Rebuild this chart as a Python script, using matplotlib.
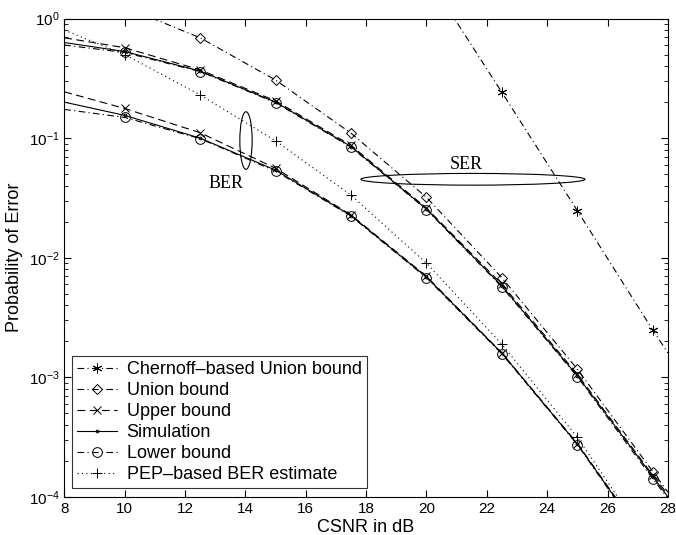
import matplotlib
matplotlib.use("Agg")
import matplotlib.pyplot as plt
from matplotlib.patches import Ellipse
from matplotlib.ticker import LogLocator, FixedLocator

plt.rcParams['font.family'] = ['Liberation Sans', 'DejaVu Sans']

# SER curves (CSNR in dB)
ser_x = [8, 10, 12.5, 15, 17.5, 20, 22.5, 25, 27.5, 28]
ser_sim = [0.63, 0.53, 0.364, 0.20, 0.085, 0.0255, 0.0058, 0.00103, 1.48e-4, 1.0e-4]
ser_upper = [0.69, 0.57, 0.372, 0.205, 0.087, 0.026, 0.0060, 0.00106, 1.52e-4, 1.05e-4]
ser_lower = [0.60, 0.52, 0.36, 0.198, 0.084, 0.0253, 0.0057, 0.00101, 1.42e-4, 0.97e-4]

union_x = [10, 12.5, 15, 17.5, 20, 22.5, 25, 27.5, 28]
union_ser = [1.25, 0.69, 0.306, 0.11, 0.032, 0.0068, 0.00117, 1.63e-4, 1.1e-4]

chern_x = [20, 22.5, 25, 27.5, 28]
chern_ser = [2.3, 0.241, 0.0247, 0.00248, 0.0016]

# BER curves
ber_x = [8, 10, 12.5, 15, 17.5, 20, 22.5, 25, 27.5]
ber_sim = [0.20, 0.155, 0.10, 0.054, 0.0225, 0.0069, 0.00159, 2.77e-4, 3.5e-5]
ber_upper = [0.244, 0.177, 0.111, 0.056, 0.0228, 0.0070, 0.0016, 2.8e-4, 3.6e-5]
ber_lower = [0.174, 0.149, 0.099, 0.053, 0.0223, 0.0068, 0.00157, 2.74e-4, 3.4e-5]
ber_pep = [0.8, 0.50, 0.23, 0.095, 0.0334, 0.009, 0.00189, 3.15e-4, 3.7e-5]

fig = plt.figure(figsize=(6.76, 5.35), dpi=100)
ax = fig.add_axes([0.0951, 0.071, 0.893, 0.8944])

lw = 0.8
kw = dict(color='k', lw=lw, mfc='none', mec='k', mew=0.7)
dashdot = (0, (6, 3, 1, 3))
dashed = (0, (7, 4))

ax.plot(chern_x, chern_ser, linestyle=dashdot, marker=(6, 2, 0), ms=7, markevery=slice(1, 4),
        label='Chernoff\u2013based Union bound', **kw)
ax.plot(union_x, union_ser, linestyle=dashdot, marker='D', ms=5.5,
        markevery=slice(0, 8), label='Union bound', **kw)
ax.plot(ser_x, ser_upper, linestyle=dashed, marker='x', ms=6,
        markevery=slice(1, 9), label='Upper bound', **kw)
ax.plot(ser_x, ser_sim, linestyle='-', marker='.', ms=4,
        markevery=slice(1, 9), label='Simulation', **kw)
ax.plot(ser_x, ser_lower, linestyle=dashdot, marker='o', ms=7,
        markevery=slice(1, 9), label='Lower bound', **kw)
ax.plot(ber_x, ber_pep, linestyle=(0, (1, 3)), marker='+', ms=7,
        markevery=slice(1, 8), label='PEP\u2013based BER estimate', **kw)

ax.plot(ber_x, ber_upper, linestyle=dashed, marker='x', ms=6, markevery=slice(1, 8), **kw)
ax.plot(ber_x, ber_sim, linestyle='-', marker='.', ms=4, markevery=slice(1, 8), **kw)
ax.plot(ber_x, ber_lower, linestyle=dashdot, marker='o', ms=7, markevery=slice(1, 8), **kw)

ax.set_yscale('log')
ax.set_xlim(8, 28)
ax.set_ylim(1e-4, 1)
ax.xaxis.set_major_locator(FixedLocator(range(8, 29, 2)))
ax.yaxis.set_major_locator(LogLocator(base=10))
ax.yaxis.set_minor_locator(LogLocator(base=10, subs=range(2, 10)))
ax.tick_params(which='both', direction='in', top=True, right=True, labelsize=11)
ax.tick_params(which='major', length=5)
ax.tick_params(which='minor', length=3)
for s in ax.spines.values():
    s.set_linewidth(0.8)

ax.set_xlabel('CSNR in dB', fontsize=13, labelpad=2)
ax.set_ylabel('Probability of Error', fontsize=13, labelpad=4)

# ellipses marking the two groups
ax.add_patch(Ellipse((0.301, 0.745), 0.0204, 0.1204, transform=ax.transAxes,
                     fill=False, lw=0.8, ec='k'))
ax.add_patch(Ellipse((0.677, 0.664), 0.371, 0.0245, transform=ax.transAxes,
                     fill=False, lw=0.8, ec='k'))
ax.text(13.35, 0.042, 'BER', fontsize=13, family='Liberation Serif', ha='center', va='center')
ax.text(21.33, 0.06, 'SER', fontsize=13, family='Liberation Serif', ha='center', va='center')

leg = ax.legend(loc='lower left', bbox_to_anchor=(0.012, 0.018), borderaxespad=0,
                fontsize=13, frameon=True, fancybox=False, edgecolor='k',
                handlelength=2.2, handletextpad=0.55, labelspacing=0.22,
                borderpad=0.3)
leg.get_frame().set_linewidth(0.8)

fig.savefig('out.png', dpi=100)
